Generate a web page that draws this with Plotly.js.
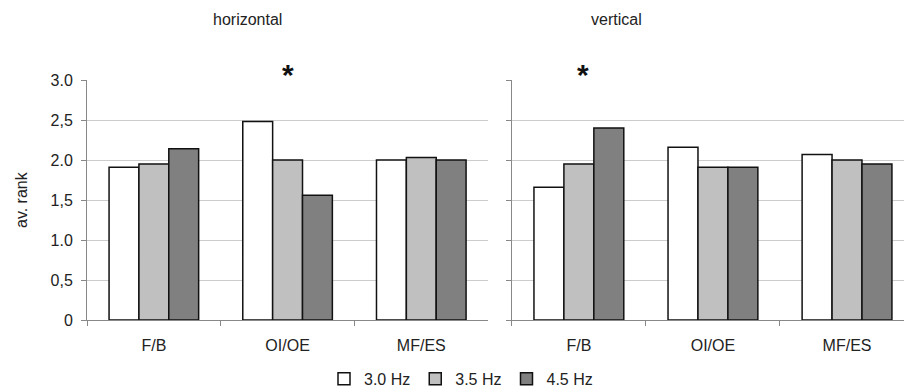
<!DOCTYPE html>
<html><head><meta charset="utf-8">
<script src="https://cdn.plot.ly/plotly-3.0.1.min.js"></script>
<style>body{margin:0;background:#fff}#chart{width:904px;height:390px}</style>
</head><body><div id="chart"></div>
<script>
const categories = ['F/B', 'OI/OE', 'MF/ES'];
const seriesNames = ['3.0 Hz', '3.5 Hz', '4.5 Hz'];
const horizontal30 = [1.91, 2.48, 2.00];
const horizontal35 = [1.95, 2.00, 2.03];
const horizontal45 = [2.14, 1.56, 2.00];
const vertical30 = [1.66, 2.16, 2.07];
const vertical35 = [1.95, 1.91, 2.00];
const vertical45 = [2.40, 1.91, 1.95];
const yTickVals = [0, 0.5, 1.0, 1.5, 2.0, 2.5, 3.0];
const yTickText = ['0', '0,5', '1.0', '1,5', '2.0', '2,5', '3.0'];
const panelTitles = ['horizontal', 'vertical'];
const yTitle = 'av. rank';

const colors = ['#ffffff', '#c0c0c0', '#808080'];
const font = 'Liberation Sans, Arial, sans-serif';
const fs = 16;
const hz = [horizontal30, horizontal35, horizontal45];
const vt = [vertical30, vertical35, vertical45];
const traces = [];
hz.forEach((vals, i) => traces.push({type:'bar', x:categories, y:vals, name:seriesNames[i], xaxis:'x', yaxis:'y',
  marker:{color:colors[i], line:{color:'#111', width:1.5}}, legendgroup:'g'+i}));
vt.forEach((vals, i) => traces.push({type:'bar', x:categories, y:vals, name:seriesNames[i], xaxis:'x2', yaxis:'y2',
  marker:{color:colors[i], line:{color:'#111', width:1.5}}, legendgroup:'g'+i, showlegend:false}));

const xCommon = {type:'category', showline:true, linecolor:'#888', linewidth:1, ticks:'outside', tickson:'boundaries',
  ticklen:5, tickcolor:'#888', showgrid:false, tickfont:{family:font, size:fs, color:'#222'}, zeroline:false,
  ticklabelstandoff:11};
const yCommon = {range:[0,3], tickvals:yTickVals, showline:true, linecolor:'#888', linewidth:1, ticks:'outside',
  ticklen:5, tickcolor:'#888', showgrid:true, gridcolor:'#cccccc', gridwidth:1, zeroline:false,
  tickfont:{family:font, size:fs, color:'#222'}, ticklabelstandoff:5};

const layout = {
  width:904, height:390, paper_bgcolor:'#fff', plot_bgcolor:'#fff',
  margin:{l:87, r:0, t:80, b:70, autoexpand:false},
  barmode:'group', bargap:0.33, bargroupgap:0,
  font:{family:font, color:'#222'},
  xaxis:Object.assign({}, xCommon, {domain:[0, 0.491], anchor:'y', range:[-0.5, 2.5]}),
  xaxis2:Object.assign({}, xCommon, {domain:[0.520, 1], anchor:'y2', range:[-0.5, 2.425]}),
  yaxis:Object.assign({}, yCommon, {anchor:'x', ticktext:yTickText}),
  yaxis2:Object.assign({}, yCommon, {anchor:'x2', showticklabels:false}),
  showlegend:true,
  legend:{orientation:'h', x:(461-87)/817, xanchor:'center', y:-0.245, yanchor:'middle',
    font:{family:font, size:fs, color:'#222'}, itemwidth:30, traceorder:'normal'},
  annotations:[
    {text:yTitle, xref:'paper', yref:'paper', x:(21-87)/817, y:0.5, xanchor:'center', yanchor:'middle',
      textangle:-90, showarrow:false, font:{family:font, size:fs, color:'#222'}},
    {text:panelTitles[0], xref:'paper', yref:'paper', x:(247-87)/817, y:(320-19)/240, xanchor:'center', yanchor:'middle', showarrow:false,
      font:{family:font, size:fs, color:'#222'}},
    {text:panelTitles[1], xref:'paper', yref:'paper', x:(616-87)/817, y:(320-19)/240, xanchor:'center', yanchor:'middle', showarrow:false,
      font:{family:font, size:fs, color:'#222'}},
    {text:'<b>*</b>', xref:'x', yref:'paper', x:'OI/OE', y:(320-74)/240, yanchor:'middle', showarrow:false,
      font:{family:font, size:30, color:'#111'}},
    {text:'<b>*</b>', xref:'x2', yref:'paper', x:'F/B', y:(320-74)/240, yanchor:'middle', showarrow:false, xshift:4,
      font:{family:font, size:30, color:'#111'}}
  ]
};
Plotly.newPlot('chart', traces, layout, {displayModeBar:false, staticPlot:true});
</script></body></html>
